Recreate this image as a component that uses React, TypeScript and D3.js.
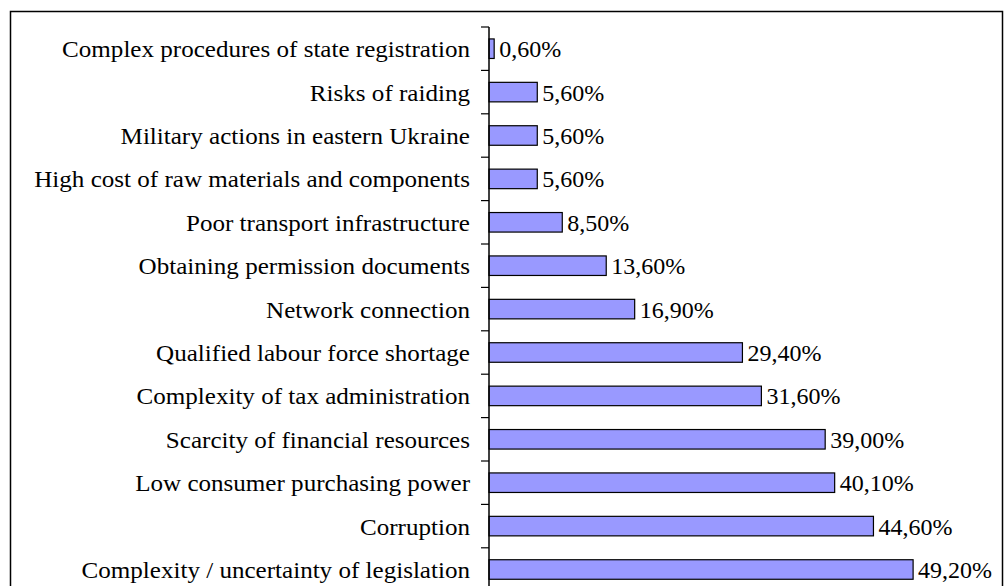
import React from 'react';
import * as d3 from 'd3';

// Categories, top to bottom
const categories = [
  'Complex procedures of state registration',
  'Risks of raiding',
  'Military actions in eastern Ukraine',
  'High cost of raw materials and components',
  'Poor transport infrastructure',
  'Obtaining permission documents',
  'Network connection',
  'Qualified labour force shortage',
  'Complexity of tax administration',
  'Scarcity of financial resources',
  'Low consumer purchasing power',
  'Corruption',
  'Complexity / uncertainty of legislation',
];

const values = [0.6, 5.6, 5.6, 5.6, 8.5, 13.6, 16.9, 29.4, 31.6, 39.0, 40.1, 44.6, 49.2];

const valueLabels = ['0,60%', '5,60%', '5,60%', '5,60%', '8,50%', '13,60%', '16,90%', '29,40%', '31,60%', '39,00%', '40,10%', '44,60%', '49,20%'];

const App = () => {
  const width = 1007;
  const height = 586;
  const axisX = 489;
  const top = 27;
  const band = 43.4;

  const x = d3.scaleLinear().domain([0, 60]).range([axisX, axisX + 8.62 * 60]);

  const y = d3.scaleBand()
    .domain(categories)
    .range([top, top + band * categories.length])
    .paddingInner(0.55)
    .paddingOuter(0.275);

  const tickYs = d3.range(categories.length + 1).map((i) => top + i * band);
  const font = '"Liberation Serif", "Times New Roman", serif';

  return (
    <svg
      width={width}
      height={height}
      style={{ position: 'absolute', left: 0, top: 0, background: '#fff' }}
      fontFamily={font}
    >
      {/* outer frame */}
      <rect x={10.5} y={11.5} width={992} height={height + 20} fill="none" stroke="#000" strokeWidth={1.5} />

      {/* bars */}
      {categories.map((c, i) => {
        const cy = y(c)! + y.bandwidth() / 2;
        return (
          <g key={c}>
            <rect
              x={x(0)}
              y={y(c)}
              width={x(values[i]) - x(0)}
              height={y.bandwidth()}
              fill="#9999FF"
              stroke="#000"
              strokeWidth={1.2}
            />
            <text x={x(values[i]) + 5} y={cy} dy="0.35em" fontSize={24} fill="#000">
              {valueLabels[i]}
            </text>
            <text
              transform={`translate(470,${cy}) scale(1.045,1)`}
              dy="0.35em"
              fontSize={24}
              textAnchor="end"
              fill="#000"
            >
              {c}
            </text>
          </g>
        );
      })}

      {/* category axis */}
      <line x1={axisX} x2={axisX} y1={top} y2={height} stroke="#000" strokeWidth={1.5} />
      {tickYs.map((t) => (
        <line key={t} x1={axisX - 8} x2={axisX} y1={t} y2={t} stroke="#000" strokeWidth={1.2} />
      ))}
    </svg>
  );
};

export default App;
